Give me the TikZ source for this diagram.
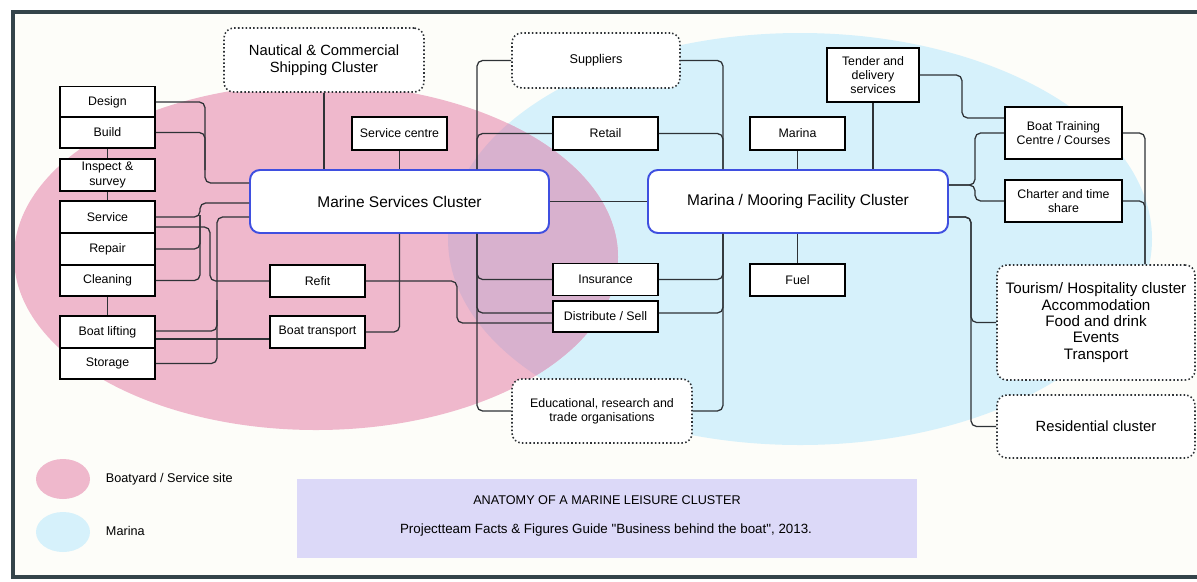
\documentclass[tikz,border=0pt]{standalone}
\usepackage{fontspec}
\setmainfont{Liberation Sans}

\definecolor{boatpink}{HTML}{EFB8CC}
\definecolor{marinablue}{HTML}{D6F1FB}
\definecolor{mauve}{HTML}{D8B1CE}
\definecolor{lavender}{HTML}{DCD9F8}
\definecolor{clusterblue}{HTML}{3F4FE0}
\definecolor{framegray}{HTML}{34444A}
\definecolor{paper}{HTML}{FDFDF9}
\definecolor{linegray}{HTML}{2E3236}

\begin{document}
\begin{tikzpicture}[x=0.025cm,y=-0.025cm,
    boxsize/.style 2 args={minimum width=#1*0.025cm,minimum height=#2*0.025cm},
    sbox/.style={draw=black,line width=1.3pt,fill=white,align=center,inner sep=1pt,font=\fontsize{8.8}{10}\selectfont},
    cluster/.style={draw=clusterblue,line width=1.4pt,rounded corners=7pt,fill=white,align=center,font=\fontsize{11}{13}\selectfont},
    dotbox/.style={draw=linegray,line width=1.1pt,dash pattern=on 1.1pt off 1.6pt,rounded corners=7pt,fill=white,align=center,font=\fontsize{9}{10.5}\selectfont},
    conn/.style={draw=linegray,line width=0.9pt,rounded corners=4pt}]

      \useasboundingbox (0,0) rectangle (1197,581);
      \fill[white] (0,0) rectangle (1197,581);
      \fill[paper] (13,12) rectangle (1197,577);

      \begin{scope}
        \clip (13,12) rectangle (1197,577);
        \fill[marinablue] (800,239) ellipse [x radius=352, y radius=206];
        \fill[boatpink] (316,257) ellipse [x radius=302, y radius=173];
        \clip (800,239) ellipse [x radius=352, y radius=206];
        \fill[mauve] (316,257) ellipse [x radius=302, y radius=173];
      \end{scope}

      \fill[boatpink] (63,479) ellipse [x radius=27, y radius=20];
      \fill[marinablue] (63,532) ellipse [x radius=27, y radius=20];
      \node[anchor=west,font=\fontsize{9}{10.5}\selectfont] (lgpink) at (101,479) {Boatyard / Service site};
      \node[anchor=west,font=\fontsize{9}{10.5}\selectfont] (lgblue) at (101,531) {Marina};

      \node[fill=lavender,boxsize={620}{79}] (capbox) at (607,518.5) {};
      \node[font=\fontsize{9}{10.5}\selectfont] (capa) at (607,500) {ANATOMY OF A MARINE LEISURE CLUSTER};
      \node[font=\fontsize{9.5}{11}\selectfont] (capb) at (606,530) {Projectteam Facts \& Figures Guide \textquotedbl Business behind the boat\textquotedbl, 2013.};

      \node[sbox,boxsize={95}{31}] (des) at (107.5,102) {Design};
      \node[sbox,boxsize={95}{31}] (bld) at (107.5,132.5) {Build};
      \node[sbox,boxsize={95}{32}] (insp) at (107.5,175) {Inspect \&\\survey};
      \node[sbox,boxsize={95}{32}] (svc) at (107.5,217) {Service};
      \node[sbox,boxsize={95}{32}] (rep) at (107.5,249) {Repair};
      \node[sbox,boxsize={95}{31}] (cln) at (107.5,280.5) {Cleaning};
      \node[sbox,boxsize={95}{32}] (lift) at (107.5,332) {Boat lifting};
      \node[sbox,boxsize={95}{31}] (stor) at (107.5,363.5) {Storage};

      \node[sbox,boxsize={95}{32}] (refit) at (317.5,281) {Refit};
      \node[sbox,boxsize={95}{32}] (btr) at (317.5,332) {Boat transport};
      \node[sbox,boxsize={95}{33}] (scen) at (399.5,133.5) {Service centre};

      \node[sbox,boxsize={105}{33}] (ret) at (605.5,133.5) {Retail};
      \node[sbox,boxsize={105}{32}] (ins) at (605.5,279.5) {Insurance};
      \node[sbox,boxsize={105}{31}] (dist) at (605.5,316.5) {Distribute / Sell};

      \node[sbox,boxsize={95}{33}] (mar) at (797.5,133.5) {Marina};
      \node[sbox,boxsize={95}{32}] (fuel) at (797.5,280) {Fuel};
      \node[sbox,boxsize={92}{54}] (ten) at (873,75) {Tender and\\delivery\\services};
      \node[sbox,boxsize={117}{52}] (btc) at (1063.5,133) {Boat Training\\Centre / Courses};
      \node[sbox,boxsize={117}{42}] (cht) at (1063.5,201) {Charter and time\\share};

      \node[cluster,boxsize={299}{63}] (msc) at (399.5,201.5) {Marine Services Cluster};
      \node[cluster,boxsize={300}{63}] (mmfc) at (798,201.5) {Marina / Mooring Facility Cluster};

      \node[dotbox,boxsize={200}{64},font=\fontsize{10.5}{12}\selectfont] (naut) at (324,60) {Nautical \& Commercial\\Shipping Cluster};
      \node[dotbox,boxsize={168}{55},font=\fontsize{9}{10.5}\selectfont] (sup) at (596,60.5) {Suppliers};
      \node[dotbox,boxsize={180}{64},font=\fontsize{8.8}{10.2}\selectfont] (edu) at (602,411) {Educational, research and\\trade organisations};
      \node[dotbox,boxsize={198}{115},font=\fontsize{10.8}{11.6}\selectfont] (tour) at (1096,322.5) {Tourism/ Hospitality cluster\\Accommodation\\Food and drink\\Events\\Transport};
      \node[dotbox,boxsize={198}{63},font=\fontsize{10.5}{12}\selectfont] (res) at (1096,426.5) {Residential cluster};

      \draw[conn] (bld.south) -- (insp.north);
      \draw[conn] (insp.south) -- (svc.north);
      \draw[conn] (cln.south) -- (lift.north);

      \draw[conn] (des.east) -| (205,183) -- (msc.west |- 0,183);
      \draw[conn] (bld.east) -| (205,170);
      \draw[conn] (svc.east) -| (200,203) -- (msc.west |- 0,203);
      \draw[conn] (rep.east) -| (200,215);
      \draw[conn] (cln.east) -| (200,215);
      \draw[conn] (svc.east |- 0,227) -| (210,281) -- (refit.west);
      \draw[conn] (msc.west |- 0,217) -| (217,363.5) -- (stor.east);
      \draw[conn] (lift.east |- 0,331) -| (217,300);
      \draw[conn] (lift.east |- 0,339) -- (btr.west |- 0,339);

      \draw[conn] (naut.south) -- (msc.north -| naut.south);
      \draw[conn] (scen.south) -- (msc.north);
      \draw[conn] (btr.east) -| (msc.south);
      \draw[conn] (refit.east) -| (457,323) -- (dist.west |- 0,323);

      \draw[conn] (sup.west) -| (msc.north -| 477,0);
      \draw[conn] (ret.west) -| (msc.north -| 477,0);
      \draw[conn] (sup.east) -| (mmfc.north -| 723,0);
      \draw[conn] (ret.east) -| (mmfc.north -| 723,0);
      \draw[conn] (msc.south -| 477,0) |- (edu.west);
      \draw[conn] (msc.south -| 477,0) |- (ins.west);
      \draw[conn] (msc.south -| 477,0) |- (dist.west |- 0,313);
      \draw[conn] (mmfc.south -| 723,0) |- (edu.east);
      \draw[conn] (mmfc.south -| 723,0) |- (ins.east);
      \draw[conn] (mmfc.south -| 723,0) |- (dist.east |- 0,313);

      \draw[conn] (msc.east) -- (mmfc.west);
      \draw[conn] (mar.south) -- (mmfc.north -| mar.south);
      \draw[conn] (mmfc.south -| fuel.north) -- (fuel.north);
      \draw[conn] (ten.south) -- (mmfc.north -| ten.south);
      \draw[conn] (ten.east) -| (962,118) -- (btc.west |- 0,118);
      \draw[conn] (btc.west) -| (975,185) -- (mmfc.east |- 0,185);
      \draw[conn] (cht.west) -| (975,185) -- (mmfc.east |- 0,185);
      \draw[conn] (btc.east) -| (tour.north -| 1145,0);
      \draw[conn] (cht.east) -| (tour.north -| 1145,0);
      \draw[conn] (mmfc.east |- 0,217) -| (res.west -| 971,0) -- (res.west);
      \draw[conn] (mmfc.east |- 0,217) -| (tour.west -| 971,0) -- (tour.west);

      \draw[framegray,line width=2.6pt] (1197,12) -- (13,12) -- (13,577) -- (1197,577);
    \end{tikzpicture}
\end{document}
